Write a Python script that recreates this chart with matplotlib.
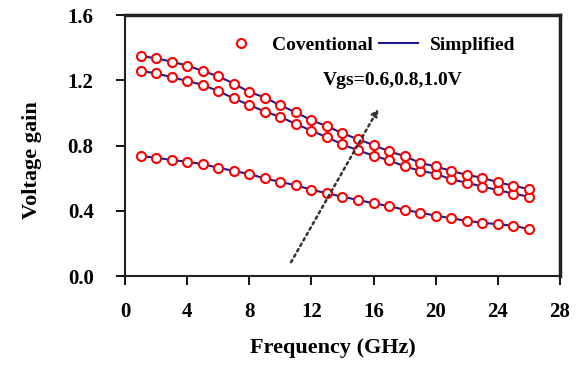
import matplotlib
matplotlib.use('Agg')
import matplotlib.pyplot as plt

# frequency points (GHz)
freq = list(range(1, 27))

# conventional model, Vgs = 0.6, 0.8, 1.0 V
conv_06 = [0.736, 0.725, 0.711, 0.701, 0.685, 0.664, 0.644, 0.625, 0.598, 0.577,
           0.556, 0.529, 0.507, 0.486, 0.466, 0.446, 0.428, 0.406, 0.388, 0.370,
           0.354, 0.338, 0.327, 0.317, 0.308, 0.288]
conv_08 = [1.257, 1.243, 1.218, 1.196, 1.171, 1.134, 1.089, 1.048, 1.008, 0.975,
           0.932, 0.891, 0.850, 0.807, 0.770, 0.738, 0.709, 0.672, 0.645, 0.627,
           0.592, 0.572, 0.548, 0.527, 0.505, 0.486]
conv_10 = [1.349, 1.335, 1.314, 1.290, 1.257, 1.224, 1.180, 1.128, 1.094, 1.046,
           1.003, 0.955, 0.918, 0.875, 0.838, 0.803, 0.764, 0.735, 0.693, 0.672,
           0.644, 0.620, 0.602, 0.575, 0.553, 0.533]

# simplified model follows the same values
simp_06 = conv_06
simp_08 = conv_08
simp_10 = conv_10

xticks = [0, 4, 8, 12, 16, 20, 24, 28]
yticks = [0.0, 0.4, 0.8, 1.2, 1.6]

plt.rcParams['font.family'] = ['Liberation Serif', 'DejaVu Serif']
plt.rcParams['font.weight'] = 'bold'

fig = plt.figure(figsize=(5.86, 3.66), dpi=100)
ax = fig.add_axes([0.2133, 0.2459, 0.7423, 0.7131])

for i, (c, s) in enumerate([(conv_06, simp_06), (conv_08, simp_08), (conv_10, simp_10)]):
    ax.plot(freq, s, color='#1a1a8c', lw=1.5, zorder=2,
            label='Simplified' if i == 0 else None)
    ax.plot(freq, c, 'o', mfc='white', mec='red', mew=1.5, ms=6.5, zorder=3,
            label='Coventional' if i == 0 else None)

ax.set_xlim(0, 28)
ax.set_ylim(0, 1.6)
ax.set_xticks(xticks)
ax.set_yticks(yticks)
ax.set_yticklabels([f'{v:.1f}' for v in yticks])
ax.tick_params(direction='out', length=6.5, width=1.3, labelsize=15)
ax.tick_params(axis='x', pad=12)
ax.tick_params(axis='y', pad=16)
for sp in ax.spines.values():
    sp.set_linewidth(1.5)
    sp.set_color('#222222')

# frame edges at top and right
ax.axhline(1.6, color='#222222', lw=2.5, clip_on=False, zorder=6)
ax.axvline(28, color='#222222', lw=2.5, clip_on=False, zorder=6)

ax.set_xlabel('Frequency (GHz)', fontsize=16, fontweight='bold')
ax.set_ylabel('Voltage gain', fontsize=16, fontweight='bold')
ax.xaxis.set_label_coords(0.478, -0.2375)
ax.yaxis.set_label_coords(-0.19, 0.444)

handles, labels = ax.get_legend_handles_labels()
order = [labels.index('Coventional'), labels.index('Simplified')]
ax.legend([handles[k] for k in order], [labels[k] for k in order],
          loc='center', bbox_to_anchor=(0.56, 0.885), ncol=2, frameon=False,
          fontsize=14, handlelength=2.0, columnspacing=0.3, handletextpad=0.6)

ax.annotate('', xy=(16.4, 1.04), xytext=(10.6, 0.07),
            arrowprops=dict(arrowstyle='-|>', linestyle=(0, (1, 1.5)), lw=1.8,
                            color='#333333', mutation_scale=10))
ax.text(12.7, 1.2, 'Vgs=0.6,0.8,1.0V', fontsize=14, fontweight='bold',
        ha='left', va='center')

fig.savefig('out.png', dpi=100)
